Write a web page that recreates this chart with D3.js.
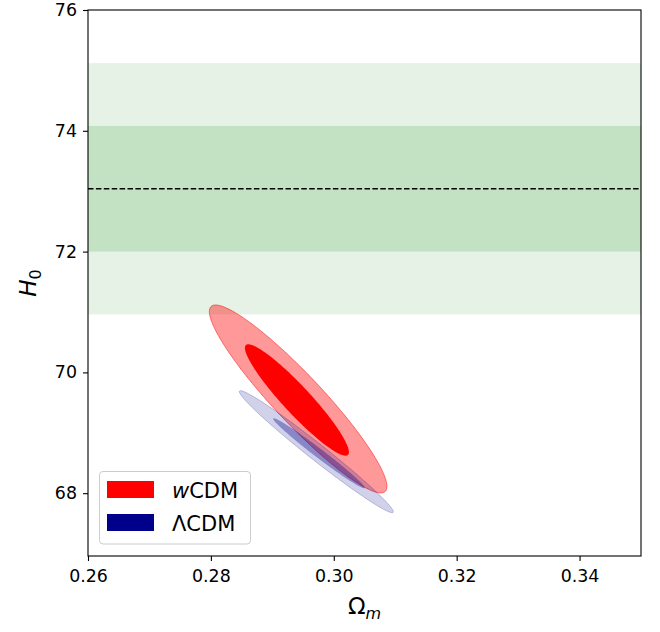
<!DOCTYPE html>
<html>
<head>
<meta charset="utf-8">
<script src="https://cdn.jsdelivr.net/npm/d3@7"></script>
<style>
  html, body { margin: 0; padding: 0; background: #fff; }
  svg { display: block; font-family: "DejaVu Sans", sans-serif; }
</style>
</head>
<body>
<svg id="chart" width="660" height="632"></svg>
<script>
// ---- data ----
const xTicks = [0.26, 0.28, 0.30, 0.32, 0.34];
const yTicks = [68, 70, 72, 74, 76];
const xDomain = [0.26, 0.35];
const yDomain = [66.96, 76];

// SH0ES band: mean and sigma
const h0Mean = 73.04;
const h0Sigma = 1.04;

// contour ellipses: [centre Om, centre H0, half-range Om, half-range H0, correlation]
const models = ["wCDM", "ΛCDM"];
const wcdm2 = [0.2942, 69.56, 0.01445, 1.556, -0.93];
const wcdm1 = [0.2940, 69.543, 0.00846, 0.922, -0.935];
const lcdm2 = [0.29716, 68.687, 0.01253, 1.01, -0.985];
const lcdm1 = [0.2976, 68.66, 0.00746, 0.58, -0.987];

// ---- layout ----
const svg = d3.select("#chart");
const L = 88, R = 641, T = 10, B = 556;
const x = d3.scaleLinear().domain(xDomain).range([L, R]);
const y = d3.scaleLinear().domain(yDomain).range([B, T]);

const defs = svg.append("defs");
defs.append("clipPath").attr("id", "clip")
  .append("rect").attr("x", L).attr("y", T).attr("width", R - L).attr("height", B - T);

const plot = svg.append("g").attr("clip-path", "url(#clip)");

// bands
plot.append("rect")
  .attr("x", L).attr("width", R - L)
  .attr("y", y(h0Mean + 2 * h0Sigma))
  .attr("height", y(h0Mean - 2 * h0Sigma) - y(h0Mean + 2 * h0Sigma))
  .attr("fill", "#008000").attr("fill-opacity", 0.1);
plot.append("rect")
  .attr("x", L).attr("width", R - L)
  .attr("y", y(h0Mean + h0Sigma))
  .attr("height", y(h0Mean - h0Sigma) - y(h0Mean + h0Sigma))
  .attr("fill", "#008000").attr("fill-opacity", 0.15);
plot.append("line")
  .attr("x1", L).attr("x2", R)
  .attr("y1", y(h0Mean)).attr("y2", y(h0Mean))
  .attr("stroke", "#000").attr("stroke-width", 1.4)
  .attr("stroke-dasharray", "5.5,2.4");

// ellipses
function ellipsePts(p) {
  const [cx, cy, hx, hy, rho] = p;
  const s = Math.sqrt(1 - rho * rho);
  return d3.range(0, 360, 1).map(d => {
    const t = d * Math.PI / 180;
    return [cx + hx * Math.cos(t), cy + hy * (rho * Math.cos(t) + s * Math.sin(t))];
  });
}
const line = d3.line().x(d => x(d[0])).y(d => y(d[1])).curve(d3.curveLinearClosed);

plot.append("path").attr("d", line(ellipsePts(wcdm2)))
  .attr("fill", "red").attr("fill-opacity", 0.4)
  .attr("stroke", "red").attr("stroke-opacity", 0.5).attr("stroke-width", 1);
plot.append("path").attr("d", line(ellipsePts(wcdm1)))
  .attr("fill", "red");
plot.append("path").attr("d", line(ellipsePts(lcdm2)))
  .attr("fill", "darkblue").attr("fill-opacity", 0.18)
  .attr("stroke", "darkblue").attr("stroke-opacity", 0.22).attr("stroke-width", 1);
plot.append("path").attr("d", line(ellipsePts(lcdm1)))
  .attr("fill", "darkblue").attr("fill-opacity", 0.35);

// axes frame
svg.append("rect").attr("x", L).attr("y", T).attr("width", R - L).attr("height", B - T)
  .attr("fill", "none").attr("stroke", "#000").attr("stroke-width", 1.1);

const xAxis = svg.append("g").attr("transform", `translate(0,${B})`)
  .call(d3.axisBottom(x).tickValues(xTicks).tickFormat(d3.format(".2f")).tickSize(5).tickPadding(9));
const yAxis = svg.append("g").attr("transform", `translate(${L},0)`)
  .call(d3.axisLeft(y).tickValues(yTicks).tickFormat(d3.format("d")).tickSize(5).tickPadding(6));
[xAxis, yAxis].forEach(g => {
  g.select(".domain").remove();
  g.selectAll(".tick line").attr("stroke", "#000").attr("stroke-width", 1.1);
  g.selectAll(".tick text").attr("fill", "#000")
    .style("font-family", "DejaVu Sans").style("font-size", "17.4px");
});

// axis labels
const xl = svg.append("text").attr("x", (L + R) / 2).attr("y", 614)
  .attr("text-anchor", "middle").style("font-size", "23px").attr("fill", "#000");
xl.append("tspan").text("Ω");
xl.append("tspan").attr("font-style", "italic").attr("font-size", "16px").attr("dy", 5).text("m");

const yl = svg.append("text")
  .attr("transform", `translate(36,${(T + B) / 2}) rotate(-90)`)
  .attr("text-anchor", "middle").style("font-size", "23px").attr("fill", "#000");
yl.append("tspan").attr("font-style", "italic").text("H");
yl.append("tspan").attr("font-size", "16px").attr("dy", 5).text("0");

// legend
const lg = svg.append("g");
lg.append("rect").attr("x", 99.5).attr("y", 471.5).attr("width", 151).attr("height", 72.5)
  .attr("rx", 3.5).attr("fill", "#fff").attr("fill-opacity", 0.8)
  .attr("stroke", "#cccccc").attr("stroke-width", 1);
const legColors = ["red", "darkblue"];
models.forEach((m, i) => {
  const yy = 481 + i * 33;
  lg.append("rect").attr("x", 107).attr("y", yy).attr("width", 47).attr("height", 17)
    .attr("fill", legColors[i]);
  const t = lg.append("text").attr("x", 172).attr("y", yy + 16.5)
    .style("font-size", "21px").attr("fill", "#000");
  if (m === "wCDM") {
    t.append("tspan").attr("font-style", "italic").text("w");
    t.append("tspan").text("CDM");
  } else {
    t.append("tspan").text(m);
  }
});
</script>
</body>
</html>
